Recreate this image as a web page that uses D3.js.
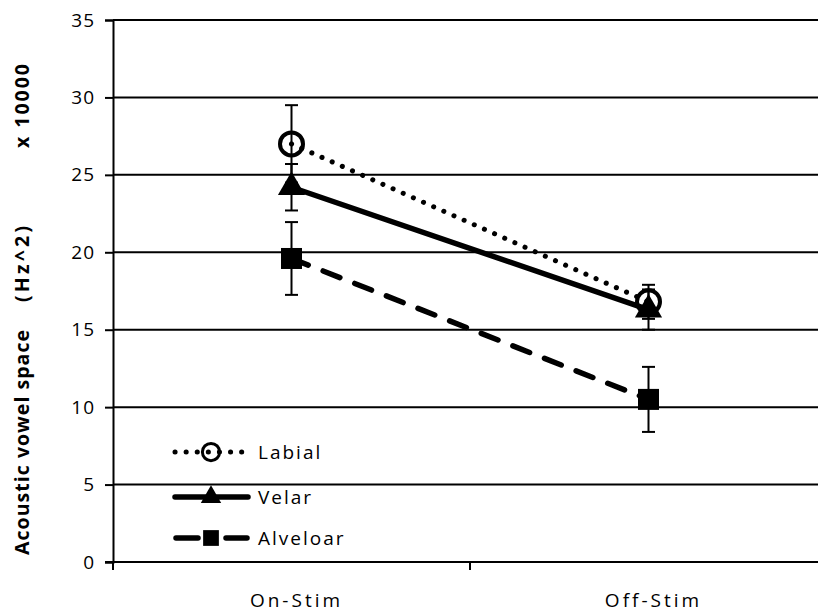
<!DOCTYPE html>
<html>
<head>
<meta charset="utf-8">
<script src="https://cdn.jsdelivr.net/npm/d3@7"></script>
<style>
  body { margin: 0; background: #fff; }
  text { font-family: "Open Sans", sans-serif; }
</style>
</head>
<body>
<svg id="chart" width="818" height="615"></svg>
<script>
// data
var conditions = ["On-Stim", "Off-Stim"];
var seriesNames = ["Labial", "Velar", "Alveloar"];
var labial = [27.0, 16.8];
var velar = [24.2, 16.3];
var alveolar = [19.6, 10.5];
var labialErr = [2.5, 1.1];
var velarErr = [1.5, 1.3];
var alveolarErr = [2.35, 2.1];
var yTicks = [0, 5, 10, 15, 20, 25, 30, 35];
var titleParts = ["Acoustic vowel space", "(Hz^2)", "x 10000"];

(function () {
var svg = d3.select("#chart");
var mLeft = 113, mRight = 827, mTop = 20, mBottom = 562;

var x = d3.scaleBand().domain(conditions).range([mLeft, mRight]);
var y = d3.scaleLinear().domain([0, 35]).range([mBottom, mTop]);

// gridlines
svg.append("g").selectAll("line").data(yTicks.slice(1)).enter().append("line")
  .attr("x1", mLeft).attr("x2", mRight)
  .attr("y1", function (d) { return y(d); }).attr("y2", function (d) { return y(d); })
  .attr("stroke", "#000").attr("stroke-width", 2);

// y axis
var yAxis = svg.append("g").attr("transform", "translate(" + mLeft + ",0)")
  .call(d3.axisLeft(y).tickValues(yTicks).tickSize(8).tickPadding(10));
yAxis.select(".domain").attr("stroke-width", 2);
yAxis.selectAll(".tick line").attr("stroke-width", 2);
yAxis.selectAll("text").attr("font-size", 19).attr("fill", "#000")
  .attr("letter-spacing", 1)
  .attr("font-family", "Open Sans, sans-serif");

// x axis with ticks between categories
var xAxisG = svg.append("g");
xAxisG.append("line").attr("x1", mLeft - 8).attr("x2", mRight)
  .attr("y1", mBottom).attr("y2", mBottom).attr("stroke", "#000").attr("stroke-width", 2);
xAxisG.selectAll(".xt").data(conditions).enter().append("line")
  .attr("x1", function (d) { return x(d); }).attr("x2", function (d) { return x(d); })
  .attr("y1", mBottom).attr("y2", mBottom + 8)
  .attr("stroke", "#000").attr("stroke-width", 2);
xAxisG.selectAll(".xl").data(conditions).enter().append("text")
  .attr("x", function (d) { return x(d) + x.bandwidth() / 2 + 5; })
  .attr("y", 607)
  .attr("text-anchor", "middle")
  .attr("font-size", 19)
  .attr("letter-spacing", 3)
  .text(function (d) { return d; });

// y title, in three stretched pieces like the original
var titleSpans = [[555, 225], [302, 76], [148, 84]]; // start y, length
titleParts.forEach(function (t, i) {
  svg.append("text")
    .attr("transform", "translate(29," + titleSpans[i][0] + ") rotate(-90)")
    .attr("font-size", 19.5)
    .attr("font-weight", "bold")
    .attr("textLength", titleSpans[i][1])
    .attr("lengthAdjust", "spacing")
    .text(t);
});

var series = [
  { name: seriesNames[0], vals: labial, err: labialErr, dash: "0.1,11", width: 5, marker: "circle" },
  { name: seriesNames[1], vals: velar, err: velarErr, dash: null, width: 5.5, marker: "triangle" },
  { name: seriesNames[2], vals: alveolar, err: alveolarErr, dash: "18,16", width: 5.5, marker: "square" }
];

function cx(i) { return x(conditions[i]) + x.bandwidth() / 2; }

var line = d3.line()
  .x(function (d, i) { return cx(i); })
  .y(function (d) { return y(d); });

function drawMarker(g, type, px, py, s) {
  if (type === "circle") {
    g.append("circle").attr("cx", px).attr("cy", py).attr("r", 11.5 * s)
      .attr("fill", "none").attr("stroke", "#000").attr("stroke-width", 4 * s);
  } else if (type === "triangle") {
    g.append("path").attr("transform", "translate(" + px + "," + py + ")")
      .attr("d", d3.symbol().type(d3.symbolTriangle).size(320 * s * s)())
      .attr("fill", "#000");
  } else {
    g.append("rect").attr("x", px - 10.5 * s).attr("y", py - 10.5 * s)
      .attr("width", 21 * s).attr("height", 21 * s).attr("fill", "#000");
  }
}

series.forEach(function (s) {
  var g = svg.append("g");
  g.append("path").datum(s.vals).attr("d", line)
    .attr("fill", "none").attr("stroke", "#000")
    .attr("stroke-width", s.width)
    .attr("stroke-linecap", "round")
    .attr("stroke-dasharray", s.dash);
  s.vals.forEach(function (v, i) {
    var px = cx(i);
    var lo = y(v - s.err[i]), hi = y(v + s.err[i]);
    g.append("line").attr("x1", px).attr("x2", px).attr("y1", lo).attr("y2", hi)
      .attr("stroke", "#000").attr("stroke-width", 2);
    [lo, hi].forEach(function (yy) {
      g.append("line").attr("x1", px - 6.5).attr("x2", px + 6.5).attr("y1", yy).attr("y2", yy)
        .attr("stroke", "#000").attr("stroke-width", 2);
    });
    drawMarker(g, s.marker, px, y(v), 1);
  });
});

// legend
var legendY = [452, 497, 538];
var leg = svg.append("g");
series.forEach(function (s, i) {
  var ly = legendY[i];
  var g = leg.append("g");
  if (s.marker === "square") {
    g.append("line").attr("x1", 176).attr("x2", 198).attr("y1", ly).attr("y2", ly)
      .attr("stroke", "#000").attr("stroke-width", s.width).attr("stroke-linecap", "round");
    g.append("line").attr("x1", 226).attr("x2", 247).attr("y1", ly).attr("y2", ly)
      .attr("stroke", "#000").attr("stroke-width", s.width).attr("stroke-linecap", "round");
  } else {
    g.append("line").attr("x1", 175).attr("x2", 248).attr("y1", ly).attr("y2", ly)
      .attr("stroke", "#000").attr("stroke-width", s.width)
      .attr("stroke-linecap", "round")
      .attr("stroke-dasharray", s.dash);
  }
  drawMarker(g, s.marker, 211, ly, 0.75);
  g.append("text").attr("x", 258).attr("y", ly + 7)
    .attr("font-size", 19).attr("letter-spacing", 2)
    .text(s.name);
});
})();
</script>
</body>
</html>
